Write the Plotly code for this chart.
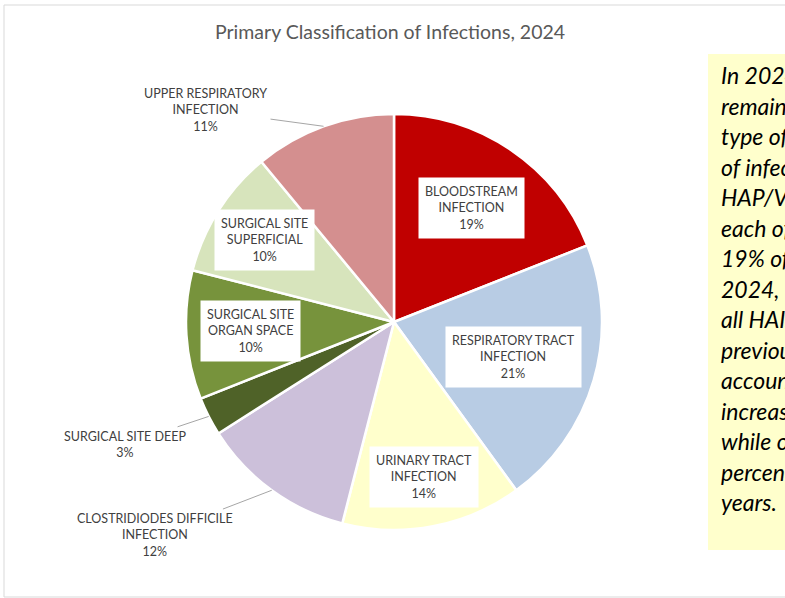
import math
import plotly.graph_objects as go

# ---- data ----
categories = [
    "BLOODSTREAM<br>INFECTION",
    "RESPIRATORY TRACT<br>INFECTION",
    "URINARY TRACT<br>INFECTION",
    "CLOSTRIDIODES DIFFICILE<br>INFECTION",
    "SURGICAL SITE DEEP",
    "SURGICAL SITE<br>ORGAN SPACE",
    "SURGICAL SITE<br>SUPERFICIAL",
    "UPPER RESPIRATORY<br>INFECTION",
]
percent_values = [19, 21, 14, 12, 3, 10, 10, 11]
title_text = "Primary Classification of Infections, 2024"
note_lines = [
    "In 2024, respiratory tract infection",
    "remained the most common",
    "type of infection, followed by the category",
    "of infections classed as BSI and",
    "HAP/VAP, which",
    "each of accounted for",
    "19% of infections. In",
    "2024, RTI made up 21% of",
    "all HAIs, which had",
    "previously",
    "accounted for less; this",
    "increase is notable",
    "while other categories",
    "percentages fell over recent",
    "years.",
]

# ---- style ----
W, H = 785, 598
colors = ["#C00000", "#B8CCE4", "#FFFFCC", "#CCC0DA",
          "#4F6228", "#77933C", "#D7E4BC", "#D48F8F"]
label_inside = [True, True, True, False, False, True, True, False]
inside_frac = [0.66, 0.60, 0.76, None, None, 0.69, 0.74, None]
outside_offsets = {3: (-117, 45), 4: (-84, 28), 7: (-118, -16)}
CX, CY, R = 394, 322, 208  # pixel centre and radius of the pie
FONT = "Lato, 'Open Sans', sans-serif"
LABEL_COLOR = "#404040"

fig = go.Figure()
fig.add_trace(go.Pie(
    labels=categories,
    values=percent_values,
    sort=False,
    direction="clockwise",
    rotation=0,
    marker=dict(colors=colors, line=dict(color="white", width=2.5)),
    textinfo="none",
    hoverinfo="label+percent",
    showlegend=False,
    domain=dict(x=[(CX - R) / W, (CX + R) / W],
                y=[(H - CY - R) / H, (H - CY + R) / H]),
))

total = sum(percent_values)
cum = 0
annotations = []
for i, (lab, v) in enumerate(zip(categories, percent_values)):
    mid = (cum + v / 2) / total * 2 * math.pi
    cum += v
    pct = round(v / total * 100)
    txt = f"{lab}<br>{pct}%"
    sx, sy = math.sin(mid), math.cos(mid)
    if label_inside[i]:
        f = inside_frac[i]
        px = CX + f * R * sx
        py = CY - f * R * sy
        annotations.append(dict(
            x=px / W, y=1 - py / H, xref="paper", yref="paper",
            xanchor="center", yanchor="middle",
            text=txt, showarrow=False, align="center",
            bgcolor="white", borderpad=6,
            font=dict(family=FONT, size=12.5, color=LABEL_COLOR),
        ))
    else:
        ex = CX + R * sx
        ey = CY - R * sy
        ax, ay = outside_offsets[i]
        annotations.append(dict(
            x=ex / W, y=1 - ey / H, xref="paper", yref="paper",
            text=txt, showarrow=True, arrowhead=0, arrowwidth=1,
            arrowcolor="#A6A6A6", ax=ax, ay=ay, standoff=0,
            startstandoff=2, align="center",
            font=dict(family=FONT, size=12.5, color=LABEL_COLOR),
        ))

# title
annotations.append(dict(
    x=390 / W, y=1 - 32 / H, xref="paper", yref="paper",
    xanchor="center", yanchor="middle",
    text=title_text, showarrow=False,
    font=dict(family=FONT, size=19.5, color="#595959"),
))

# note text on the right
for k, line in enumerate(note_lines):
    annotations.append(dict(
        x=719 / W, y=1 - (75 + k * 30.5) / H, xref="paper", yref="paper",
        xanchor="left", yanchor="middle",
        text=f"<i>{line}</i>", showarrow=False, align="left",
        font=dict(family=FONT, size=23, color="#000000"),
    ))

shapes = [
    dict(type="rect", xref="paper", yref="paper",
         x0=4 / W, x1=1.2, y0=1 - 597 / H, y1=1 - 5 / H,
         line=dict(color="#D9D9D9", width=1), fillcolor="rgba(0,0,0,0)",
         layer="below"),
    dict(type="rect", xref="paper", yref="paper",
         x0=708 / W, x1=1.2, y0=1 - 550 / H, y1=1 - 54 / H,
         line=dict(width=0), fillcolor="#FFFFCC", layer="below"),
]

fig.update_layout(
    width=W, height=H,
    margin=dict(l=0, r=0, t=0, b=0),
    paper_bgcolor="white",
    plot_bgcolor="white",
    annotations=annotations,
    shapes=shapes,
    font=dict(family=FONT),
)

fig.write_html(
    "out.html",
    config={"displayModeBar": False},
    post_script="document.body.style.margin='0px';"
                "document.body.style.overflow='hidden';",
)
